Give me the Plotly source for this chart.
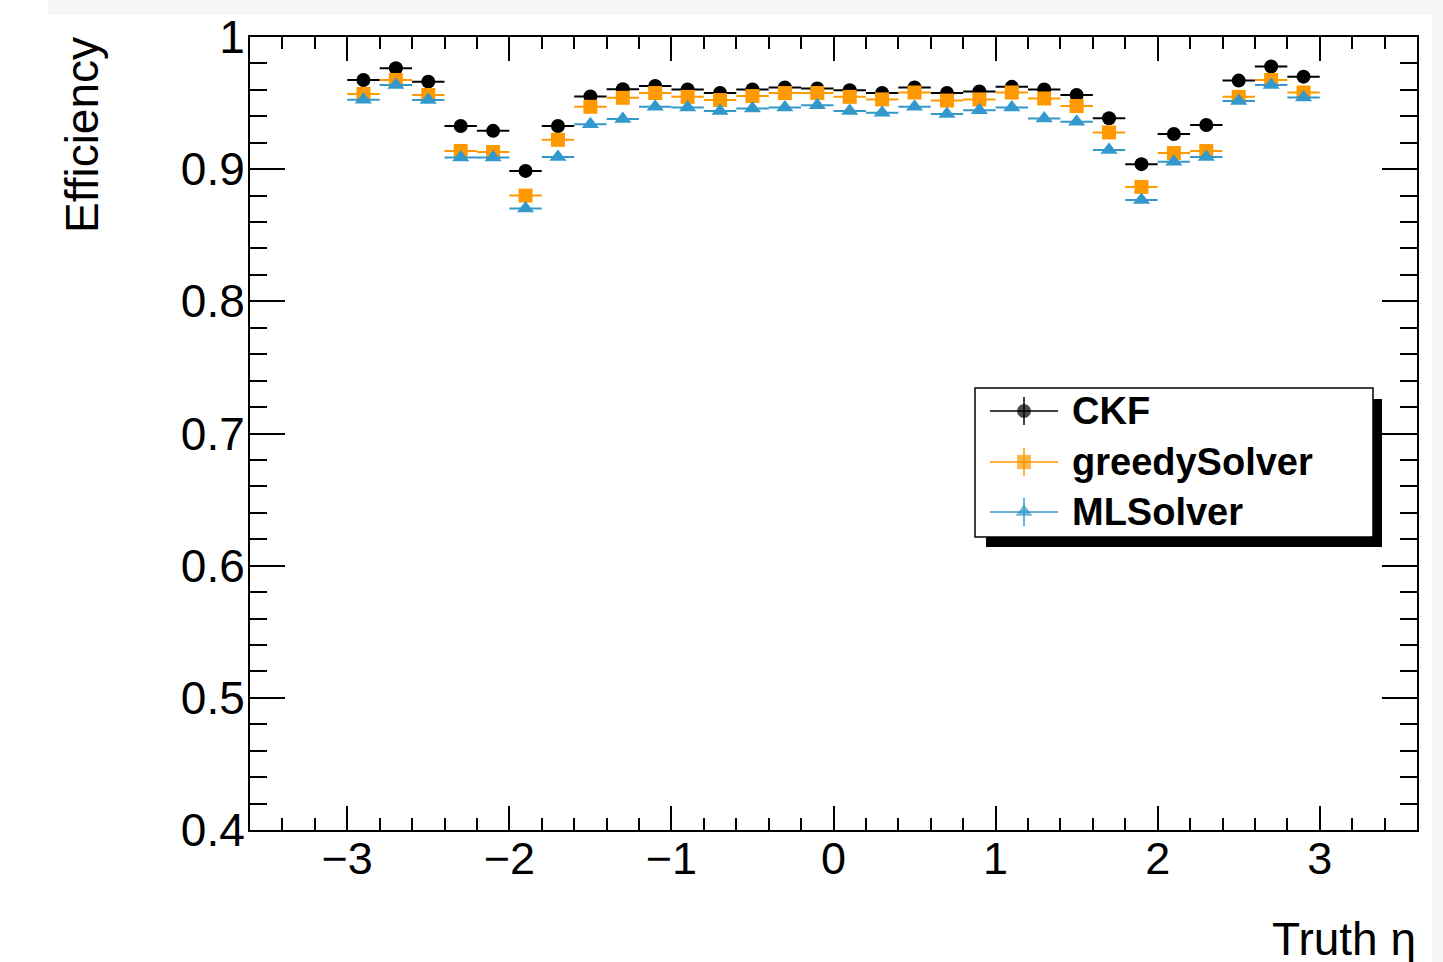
import plotly.graph_objects as go

# ---------------- data ----------------
eta = [round(-2.9 + 0.2 * i, 1) for i in range(30)]
eta_halfwidth = [0.1] * 30
ckf = [0.9675, 0.9763, 0.9662, 0.9327, 0.9290, 0.8987, 0.9327, 0.9550, 0.9605, 0.9629,
       0.9603, 0.9576, 0.9603, 0.9618, 0.9610, 0.9597, 0.9576, 0.9618, 0.9576, 0.9588,
       0.9623, 0.9603, 0.9562, 0.9385, 0.9038, 0.9266, 0.9334, 0.9670, 0.9777, 0.9700]
greedy = [0.9569, 0.9675, 0.9561, 0.9138, 0.9130, 0.8800, 0.9222, 0.9472, 0.9540, 0.9576,
          0.9547, 0.9523, 0.9553, 0.9576, 0.9576, 0.9547, 0.9528, 0.9580, 0.9519, 0.9528,
          0.9580, 0.9535, 0.9478, 0.9278, 0.8866, 0.9122, 0.9137, 0.9547, 0.9675, 0.9580]
ml = [0.9525, 0.9637, 0.9523, 0.9088, 0.9088, 0.8703, 0.9093, 0.9340, 0.9380, 0.9472,
      0.9467, 0.9441, 0.9459, 0.9467, 0.9484, 0.9441, 0.9426, 0.9472, 0.9417, 0.9446,
      0.9467, 0.9383, 0.9358, 0.9145, 0.8767, 0.9056, 0.9093, 0.9516, 0.9637, 0.9542]
eff_err = [0.0015] * 30

series_names = ["CKF", "greedySolver", "MLSolver"]
series_values = [ckf, greedy, ml]
colors = ["#000000", "#FF9900", "#3399CC"]
symbols = ["circle", "square", "triangle-up"]
msizes = [14, 14, 15]

# ---------------- layout constants (pixels) ----------------
W, H = 1443, 962
L, R, T, B = 250, 1417, 37, 830
FONT = "Liberation Sans, Arial, Helvetica, sans-serif"


def px_x(px):
    return (px - L) / (R - L)


def px_y(py):
    return (B - py) / (B - T)


fig = go.Figure()

for name, vals, col, sym, ms in zip(series_names, series_values, colors, symbols, msizes):
    fig.add_trace(go.Scatter(
        x=eta, y=vals, mode="markers", name=name,
        marker=dict(color=col, symbol=sym, size=ms, line=dict(width=0)),
        error_x=dict(type="data", array=eta_halfwidth, color=col, thickness=2, width=0),
        error_y=dict(type="data", array=eff_err, color=col, thickness=2, width=0),
        showlegend=False,
    ))

shapes = []
annotations = []

# light grey canvas border bands (top and right)
shapes.append(dict(type="rect", xref="paper", yref="paper", layer="below",
                   x0=px_x(48), x1=px_x(W), y0=px_y(15), y1=px_y(0),
                   fillcolor="#F6F6F6", line=dict(width=0)))
shapes.append(dict(type="rect", xref="paper", yref="paper", layer="below",
                   x0=px_x(1432), x1=px_x(W), y0=px_y(H), y1=px_y(0),
                   fillcolor="#F6F6F6", line=dict(width=0)))

# legend: shadow + box (below traces so legend markers show on top)
shapes.append(dict(type="rect", xref="paper", yref="paper",
                   x0=px_x(986), x1=px_x(1382), y0=px_y(547), y1=px_y(399),
                   fillcolor="black", line=dict(width=0), layer="below"))
shapes.append(dict(type="rect", xref="paper", yref="paper",
                   x0=px_x(975), x1=px_x(1373), y0=px_y(537), y1=px_y(388),
                   fillcolor="white", line=dict(color="black", width=1.5), layer="below"))

leg_rows = [411, 462, 512]
leg_line_x = (990, 1058)
leg_mark_x = 1024
for name, col, sym, ms, ry in zip(series_names, colors, symbols, msizes, leg_rows):
    shapes.append(dict(type="line", xref="paper", yref="paper", layer="below",
                       x0=px_x(leg_line_x[0]), x1=px_x(leg_line_x[1]),
                       y0=px_y(ry), y1=px_y(ry), line=dict(color=col, width=1.5)))
    shapes.append(dict(type="line", xref="paper", yref="paper", layer="below",
                       x0=px_x(leg_mark_x), x1=px_x(leg_mark_x),
                       y0=px_y(ry - 14), y1=px_y(ry + 14), line=dict(color=col, width=1.5)))
    annotations.append(dict(text="<b>%s</b>" % name, xref="paper", yref="paper",
                            x=px_x(1070), y=px_y(ry), xanchor="left", yanchor="middle",
                            showarrow=False, font=dict(family=FONT, size=38, color="black")))

# legend markers on an overlay axis spanning the plot area in pixel units
fig.add_trace(go.Scatter(
    x=[leg_mark_x] * 3, y=leg_rows, mode="markers", xaxis="x2", yaxis="y2",
    marker=dict(color=colors, symbol=symbols, size=msizes, line=dict(width=0)),
    showlegend=False, hoverinfo="skip",
))

# axis titles
annotations.append(dict(text="Efficiency", xref="paper", yref="paper",
                        x=px_x(82), y=px_y(35), xanchor="center", yanchor="top",
                        textangle=-90, showarrow=False,
                        font=dict(family=FONT, size=46, color="black")))
annotations.append(dict(text="Truth η", xref="paper", yref="paper",
                        x=px_x(1418), y=px_y(939), xanchor="right", yanchor="middle",
                        showarrow=False,
                        font=dict(family=FONT, size=46, color="black")))

fig.update_layout(
    width=W, height=H,
    margin=dict(l=L, r=W - R, t=T, b=H - B, pad=0),
    paper_bgcolor="white", plot_bgcolor="white",
    font=dict(family=FONT, color="black"),
    shapes=shapes, annotations=annotations,
    xaxis=dict(
        range=[-3.6, 3.6], tickmode="linear", tick0=0, dtick=1,
        ticks="inside", ticklen=24, tickwidth=2, tickcolor="black",
        showline=True, linecolor="black", linewidth=2, mirror="ticks",
        showgrid=False, zeroline=False,
        tickfont=dict(family=FONT, size=45, color="black"),
        ticklabelstandoff=-12,
        minor=dict(dtick=0.2, tick0=0, ticks="inside", ticklen=12, tickwidth=2,
                   tickcolor="black", showgrid=False),
    ),
    yaxis=dict(
        range=[0.4, 1.0], tickmode="linear", tick0=0.4, dtick=0.1,
        ticks="inside", ticklen=35, tickwidth=2, tickcolor="black",
        showline=True, linecolor="black", linewidth=2, mirror="ticks",
        showgrid=False, zeroline=False,
        tickfont=dict(family=FONT, size=46, color="black"),
        ticklabelstandoff=-6,
        minor=dict(dtick=0.02, tick0=0.4, ticks="inside", ticklen=17, tickwidth=2,
                   tickcolor="black", showgrid=False),
    ),
    xaxis2=dict(range=[L, R], overlaying="x", visible=False, fixedrange=True),
    yaxis2=dict(range=[B, T], overlaying="y", visible=False, fixedrange=True),
)

fig.write_html("out.html")
